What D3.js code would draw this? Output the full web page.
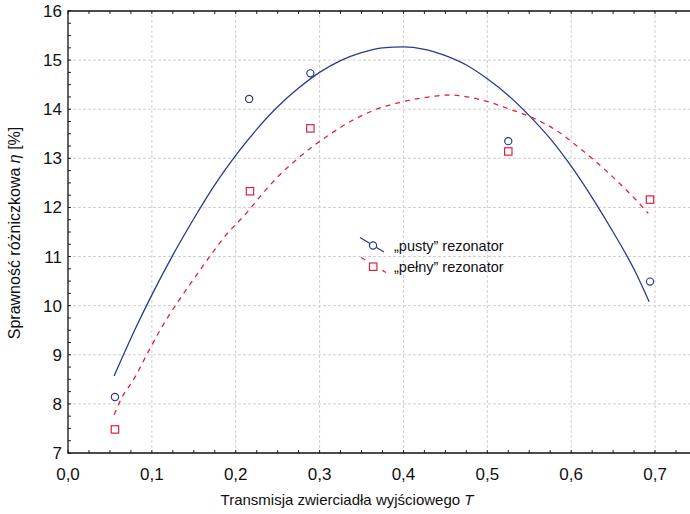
<!DOCTYPE html>
<html><head><meta charset="utf-8">
<script src="https://cdn.jsdelivr.net/npm/d3@7"></script>
<style>body{margin:0;background:#fff}svg{display:block}text{font-family:"Liberation Sans",Arial,sans-serif;fill:#111}</style>
</head><body><svg id="c" width="690" height="514"></svg>
<script>
// Data
const xTicks = [0, 0.1, 0.2, 0.3, 0.4, 0.5, 0.6, 0.7];
const xTickLabels = ["0,0","0,1","0,2","0,3","0,4","0,5","0,6","0,7"];
const yTicks = [7, 8, 9, 10, 11, 12, 13, 14, 15, 16];
const yTickLabels = ["7","8","9","10","11","12","13","14","15","16"];

const emptyT = [0.056, 0.216, 0.289, 0.525, 0.694];
const emptyEta = [8.14, 14.21, 14.73, 13.35, 10.49];
const fullT = [0.056, 0.217, 0.289, 0.525, 0.694];
const fullEta = [7.48, 12.33, 13.61, 13.14, 12.16];

const emptyFitT = [0.055,0.08,0.1,0.125,0.15,0.175,0.2,0.225,0.25,0.275,0.3,0.325,0.35,0.375,0.4,0.425,0.45,0.475,0.5,0.525,0.55,0.575,0.6,0.625,0.65,0.675,0.693];
const emptyFitEta = [8.57,9.52,10.22,11.03,11.77,12.46,13.06,13.59,14.05,14.43,14.75,14.99,15.15,15.25,15.27,15.22,15.09,14.90,14.62,14.28,13.87,13.40,12.84,12.20,11.50,10.74,10.08];

const fullFitT = [0.055,0.064,0.078,0.096,0.11,0.13,0.151,0.169,0.189,0.213,0.227,0.25,0.277,0.309,0.34,0.368,0.396,0.435,0.455,0.497,0.527,0.555,0.583,0.607,0.631,0.654,0.678,0.692];
const fullFitEta = [7.78,8.12,8.49,9.07,9.51,10.05,10.57,11.0,11.45,11.89,12.18,12.62,13.04,13.45,13.78,14.0,14.14,14.26,14.29,14.17,14.0,13.82,13.56,13.25,12.91,12.55,12.14,11.88];

const legendLabels = ["\u201Epusty\u201D rezonator", "\u201Epe\u0142ny\u201D rezonator"];

const blue = "#2b3a8e", red = "#e2203e", gridC = "#cfcfcf";

const svg = d3.select("#c");
const x = d3.scaleLinear().domain([0, 0.7417]).range([68, 690]);
const y = d3.scaleLinear().domain([7, 16]).range([453, 11]);

// grid
const g = svg.append("g");
g.selectAll(".gx").data(xTicks.slice(1)).join("line")
  .attr("x1", d => x(d)).attr("x2", d => x(d)).attr("y1", y(7)).attr("y2", y(16))
  .attr("stroke", gridC).attr("stroke-dasharray", "3,2").attr("stroke-width", 1);
g.selectAll(".gy").data(yTicks.slice(1, -1)).join("line")
  .attr("y1", d => y(d)).attr("y2", d => y(d)).attr("x1", x(0)).attr("x2", 690)
  .attr("stroke", gridC).attr("stroke-dasharray", "3,2").attr("stroke-width", 1);

// minor ticks
const xMinor = d3.range(0, 0.7417, 0.025);
const yMinor = d3.range(7, 16.001, 0.25);
svg.append("g").selectAll("line").data(xMinor).join("line")
  .attr("x1", d => x(d)).attr("x2", d => x(d)).attr("y1", y(7)).attr("y2", y(7) - 3)
  .attr("stroke", "#222");
svg.append("g").selectAll("line").data(xMinor).join("line")
  .attr("x1", d => x(d)).attr("x2", d => x(d)).attr("y1", y(16)).attr("y2", y(16) + 3)
  .attr("stroke", "#222");
svg.append("g").selectAll("line").data(yMinor).join("line")
  .attr("y1", d => y(d)).attr("y2", d => y(d)).attr("x1", x(0)).attr("x2", x(0) + 3)
  .attr("stroke", "#222");

// frame
svg.append("path").attr("d", `M690,${y(16)}H${x(0)}V${y(7)}H690`)
  .attr("fill", "none").attr("stroke", "#111").attr("stroke-width", 1.3);

// tick labels
svg.append("g").selectAll("text").data(xTicks).join("text")
  .attr("x", d => x(d)).attr("y", 480).attr("text-anchor", "middle")
  .attr("font-size", 17).text((d, i) => xTickLabels[i]);
svg.append("g").selectAll("text").data(yTicks).join("text")
  .attr("x", 62).attr("y", d => y(d) + 6).attr("text-anchor", "end")
  .attr("font-size", 17).text((d, i) => yTickLabels[i]);

// axis titles
const xt = svg.append("text").attr("x", 347).attr("y", 505).attr("text-anchor", "middle").attr("font-size", 15);
xt.append("tspan").text("Transmisja zwierciad\u0142a wyj\u015Bciowego ");
xt.append("tspan").attr("font-style", "italic").text("T");
const yt = svg.append("text").attr("transform", "translate(20,233) rotate(-90)").attr("text-anchor", "middle").attr("font-size", 16);
yt.append("tspan").text("Sprawno\u015B\u0107 r\u00F3\u017Cniczkowa ");
yt.append("tspan").attr("font-style", "italic").text("\u03B7");
yt.append("tspan").text(" [%]");

// curves
const line = d3.line().x(d => x(d[0])).y(d => y(d[1])).curve(d3.curveMonotoneX);
svg.append("path").datum(emptyFitT.map((t, i) => [t, emptyFitEta[i]]))
  .attr("d", line).attr("fill", "none").attr("stroke", blue).attr("stroke-width", 1.3);
svg.append("path").datum(fullFitT.map((t, i) => [t, fullFitEta[i]]))
  .attr("d", line).attr("fill", "none").attr("stroke", red).attr("stroke-width", 1.3)
  .attr("stroke-dasharray", "5,5");

// points
svg.append("g").selectAll("circle").data(emptyT).join("circle")
  .attr("cx", d => x(d)).attr("cy", (d, i) => y(emptyEta[i])).attr("r", 3.6)
  .attr("fill", "none").attr("stroke", blue).attr("stroke-width", 1.2);
svg.append("g").selectAll("rect").data(fullT).join("rect")
  .attr("x", d => x(d) - 3.7).attr("y", (d, i) => y(fullEta[i]) - 3.7).attr("width", 7.4).attr("height", 7.4)
  .attr("fill", "none").attr("stroke", red).attr("stroke-width", 1.2);

// legend
const lg = svg.append("g");
lg.append("line").attr("x1", 360).attr("y1", 237.5).attr("x2", 384).attr("y2", 252)
  .attr("stroke", blue).attr("stroke-width", 1.2);
lg.append("circle").attr("cx", 373).attr("cy", 245.5).attr("r", 3.6).attr("fill", "#fff")
  .attr("stroke", blue).attr("stroke-width", 1.2);
lg.append("line").attr("x1", 361).attr("y1", 257.5).attr("x2", 386).attr("y2", 272.5)
  .attr("stroke", red).attr("stroke-width", 1.2).attr("stroke-dasharray", "5,7.5");
lg.append("rect").attr("x", 369.5).attr("y", 263).attr("width", 7.4).attr("height", 7.4).attr("fill", "#fff")
  .attr("stroke", red).attr("stroke-width", 1.2);
lg.append("text").attr("x", 394).attr("y", 251).attr("font-size", 14.5).text(legendLabels[0]);
lg.append("text").attr("x", 394).attr("y", 272).attr("font-size", 14.5).text(legendLabels[1]);
</script></body></html>
